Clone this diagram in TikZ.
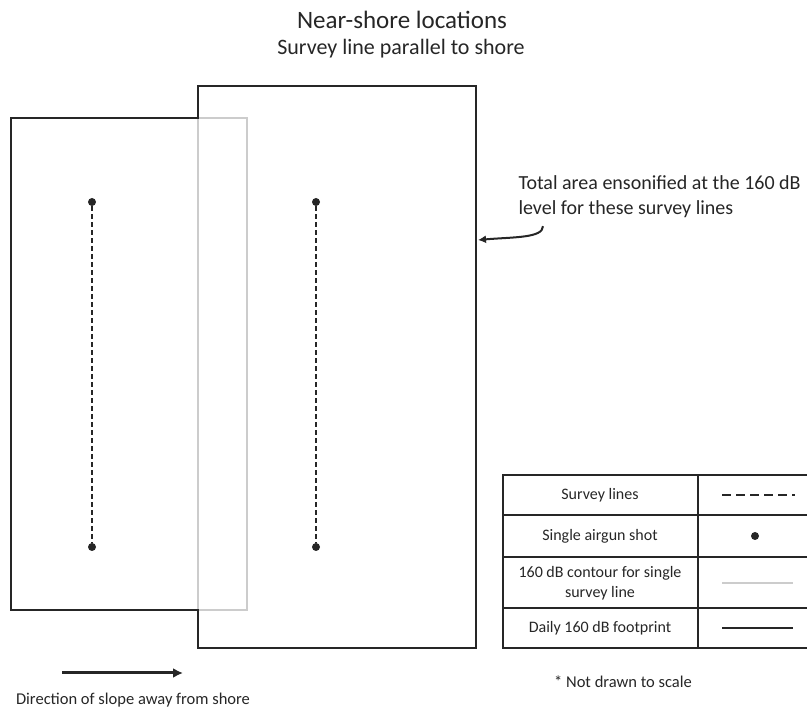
\documentclass[tikz,border=0pt]{standalone}
\usepackage{fontspec}
\setmainfont{Carlito}
\usetikzlibrary{arrows.meta}

\definecolor{tinta}{HTML}{262626}
\definecolor{cinza}{HTML}{CCCCCC}

\tikzset{
	pegada/.style={draw=tinta, line width=2pt, line join=miter},
	contorno/.style={draw=cinza, line width=1.5pt},
	linha/.style={draw=tinta, line width=2pt, dash pattern=on 5pt off 3pt},
	tiro/.style={circle, fill=tinta, inner sep=0pt, minimum size=8pt},
	tabela/.style={draw=tinta, line width=1.5pt},
	celula/.style={font=\fontsize{16}{20}\selectfont, text=tinta, align=center},
}

\begin{document}
\begin{tikzpicture}[x=1pt,y=-1pt]
\useasboundingbox (0,0) rectangle (807,708);

% Titulo
	\node[font=\fontsize{25}{30}\selectfont, text=tinta] (titulo) at (402,20) {Near-shore locations};
	\node[font=\fontsize{22}{26}\selectfont, text=tinta] (subtitulo) at (401,49) {Survey line parallel to shore};

% Contornos de 160 dB
	\draw[contorno] (11,118) rectangle (247,610);
	\draw[contorno] (198,86) rectangle (476,648);

% Pegada diaria
	\draw[pegada] (11,118) -- (198,118) -- (198,86) -- (476,86) -- (476,648)
		-- (198,648) -- (198,610) -- (11,610) -- cycle;
	\coordinate (borda) at (478,240);

% Linhas de levantamento
	\foreach \x/\n in {92/a, 316/b} {
		\node[tiro] (\n1) at (\x,202) {};
		\node[tiro] (\n2) at (\x,547) {};
		\draw[linha] (\n1) -- (\n2);
	}

% Nota
	\node[font=\fontsize{20}{25}\selectfont, text=tinta, align=left, anchor=north west]
		(nota) at (515,172) {Total area ensonified at the 160 dB\\level for these survey lines};
	\draw[pegada, -{Latex[length=8pt,width=8pt]}] ([xshift=28pt,yshift=-5pt]nota.south west)
		.. controls +(0,12) and +(35,-3) .. (borda);

% Direcao
	\node[celula, font=\fontsize{16.5}{20}\selectfont] (direcao) at (133,700) {Direction of slope away from shore};
	\coordinate (seta0) at (62,673);
	\coordinate (seta1) at (183,673);
	\draw[draw=tinta, line width=3pt, -{Latex[length=10pt,width=10pt]}] (seta0) -- (seta1);

% Legenda
	\draw[tabela] (503,475) rectangle (809,648);
	\draw[tabela] (698,475) -- (698,648);
	\foreach \y in {515, 557, 608}
		\draw[tabela] (503,\y) -- (809,\y);

	\foreach \y/\t [count=\i] in {495/{Survey lines}, 536/{Single airgun shot},
		583/{160 dB contour for single\\survey line}, 628/{Daily 160 dB footprint}}
		\node[celula] (leg\i) at (600,\y) {\t};

	\draw[linha, dash pattern=on 9pt off 5pt] (722,495) -- (795,495);
	\node[tiro] (legtiro) at (755,536) {};
	\draw[contorno] (722,583) -- (793,583);
	\draw[pegada] (722,628) -- (793,628);

	\node[celula, font=\fontsize{16.5}{20}\selectfont] (escala) at (623,682) {* Not drawn to scale};

\end{tikzpicture}
\end{document}
